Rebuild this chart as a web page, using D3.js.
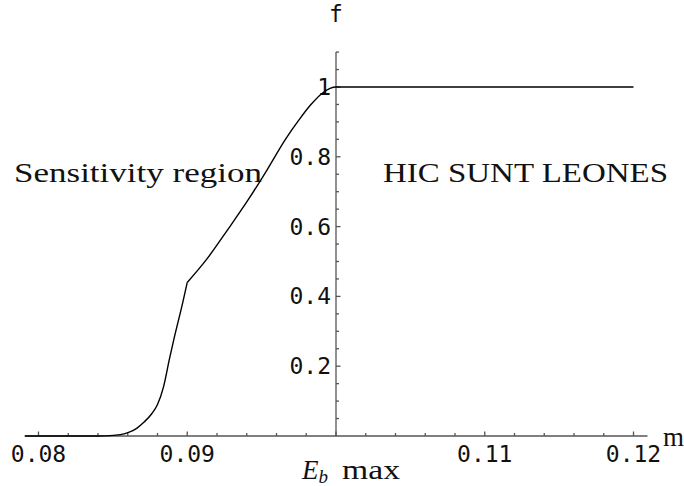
<!DOCTYPE html>
<html>
<head>
<meta charset="utf-8">
<script src="https://cdn.jsdelivr.net/npm/d3@7"></script>
<style>
  body { margin: 0; background: #fff; }
  .tick-label { font-family: 'DejaVu Sans Mono', monospace; font-size: 23px; fill: #111; }
  .note { font-family: 'Liberation Serif', serif; font-size: 27px; fill: #111; }
</style>
</head>
<body>
<div id="chart"></div>
<script>
  'use strict';
  // curve samples: x = E_b max, y = f
  // lower branch (up to the kink at 0.09) and upper branch (from the kink on)
  var lowX = [0.0791, 0.0835, 0.0845, 0.0855, 0.0861, 0.0866, 0.0871, 0.0876, 0.088, 0.0884, 0.0888, 0.0891, 0.0897, 0.09],
      lowY = [0, 0, 0.0005, 0.004, 0.011, 0.022, 0.04, 0.063, 0.09, 0.14, 0.22, 0.277, 0.383, 0.44];
  var highX = [0.09, 0.0913, 0.0927, 0.0941, 0.0954, 0.0966, 0.0975, 0.0983, 0.0991, 0.0996, 0.1, 0.12],
      highY = [0.44, 0.506, 0.59, 0.677, 0.765, 0.85, 0.905, 0.949, 0.983, 0.996, 1, 1];
  var xTicks = [0.08, 0.09, 0.11, 0.12],
      xTickLabels = ['0.08', '0.09', '0.11', '0.12'],
      yTicks = [0.2, 0.4, 0.6, 0.8, 1],
      yTickLabels = ['0.2', '0.4', '0.6', '0.8', '1'];
  var xDomain = [0.07906, 0.12094],
      yDomain = [0, 1.1];

  var width = 684, height = 486;
  var x = d3.scaleLinear().domain([0.08, 0.12]).range([38.5, 633.5]),
      y = d3.scaleLinear().domain([0, 1]).range([436, 87]);
  var axisColor = '#555';

  var svg = d3.select('#chart').append('svg')
    .attr('width', width)
    .attr('height', height);

  // minor ticks every 0.002 on x, every 0.05 on f
  var xMinor = d3.range(40, 61).map(function(i) { return i * 0.002; });
  var yMinor = d3.range(1, 23).map(function(i) { return i * 0.05; });

  var axes = svg.append('g').attr('stroke', axisColor).attr('stroke-width', 1.3);
  axes.append('line')
    .attr('x1', x(xDomain[0])).attr('x2', x(xDomain[1]))
    .attr('y1', y(0)).attr('y2', y(0));
  axes.append('line')
    .attr('x1', x(0.1)).attr('x2', x(0.1))
    .attr('y1', y(yDomain[0])).attr('y2', y(yDomain[1]));

  axes.selectAll('line.xt').data(xMinor).enter().append('line')
    .attr('class', 'xt')
    .attr('x1', function(d) { return x(d); })
    .attr('x2', function(d) { return x(d); })
    .attr('y1', y(0))
    .attr('y2', function(d) {
      var major = Math.abs(Math.round(d * 100) - d * 100) < 1e-6;
      return y(0) - (major ? 4.5 : 3);
    });

  axes.selectAll('line.yt').data(yMinor).enter().append('line')
    .attr('class', 'yt')
    .attr('y1', function(d) { return y(d); })
    .attr('y2', function(d) { return y(d); })
    .attr('x1', x(0.1))
    .attr('x2', function(d) {
      var major = Math.abs(Math.round(d * 5) - d * 5) < 1e-6;
      return x(0.1) + (major ? 4.5 : 3);
    });

  // tick labels
  svg.selectAll('text.xl').data(xTicks).enter().append('text')
    .attr('class', 'tick-label xl')
    .attr('x', function(d) { return x(d); })
    .attr('y', 462)
    .attr('text-anchor', 'middle')
    .text(function(d, i) { return xTickLabels[i]; });

  svg.selectAll('text.yl').data(yTicks).enter().append('text')
    .attr('class', 'tick-label yl')
    .attr('x', x(0.1) - 5)
    .attr('y', function(d) { return y(d) + 8; })
    .attr('text-anchor', 'end')
    .text(function(d, i) { return yTickLabels[i]; });

  svg.append('text').attr('class', 'tick-label')
    .attr('x', x(0.1)).attr('y', 22)
    .attr('text-anchor', 'middle')
    .text('f');
  svg.append('text').attr('class', 'note')
    .attr('x', 663).attr('y', 446)
    .attr('font-size', '18px')
    .text('m');

  // curve, two smooth branches meeting at the kink
  var line = d3.line()
    .x(function(d) { return x(d[0]); })
    .y(function(d) { return y(d[1]); })
    .curve(d3.curveMonotoneX);
  var branches = [
    lowX.map(function(d, i) { return [d, lowY[i]]; }),
    highX.map(function(d, i) { return [d, highY[i]]; })
  ];
  svg.selectAll('path.curve').data(branches).enter().append('path')
    .attr('class', 'curve')
    .attr('fill', 'none')
    .attr('stroke', '#000')
    .attr('stroke-width', 1.4)
    .attr('stroke-linejoin', 'round')
    .attr('d', line);

  // annotations
  svg.append('text').attr('class', 'note')
    .attr('x', 14).attr('y', 182)
    .attr('textLength', 248).attr('lengthAdjust', 'spacingAndGlyphs')
    .text('Sensitivity region');
  svg.append('text').attr('class', 'note')
    .attr('x', 383).attr('y', 182)
    .attr('textLength', 285).attr('lengthAdjust', 'spacingAndGlyphs')
    .text('HIC SUNT LEONES');

  var xl = svg.append('text').attr('class', 'note')
    .attr('x', 302).attr('y', 479);
  xl.append('tspan').attr('font-style', 'italic').text('E');
  xl.append('tspan').attr('font-style', 'italic').attr('font-size', '19px').attr('dy', 4).text('b');
  svg.append('text').attr('class', 'note')
    .attr('x', 342).attr('y', 479)
    .attr('textLength', 58).attr('lengthAdjust', 'spacingAndGlyphs')
    .text('max');
</script>
</body>
</html>
